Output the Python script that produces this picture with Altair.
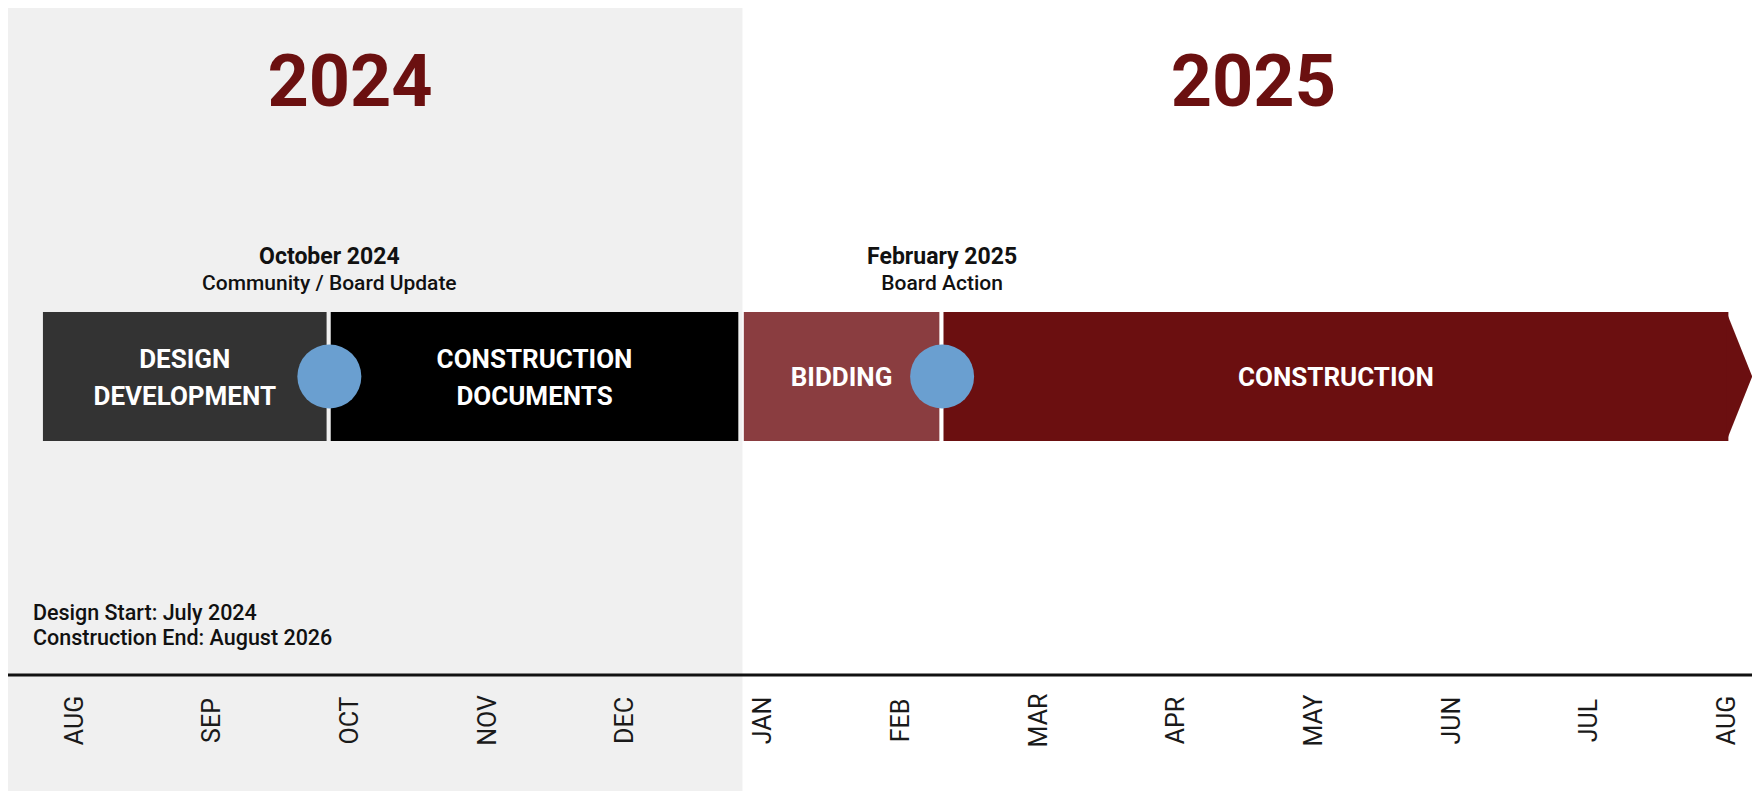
import altair as alt
import pandas as pd

# ---------------- data ----------------
months = ["AUG", "SEP", "OCT", "NOV", "DEC", "JAN", "FEB", "MAR", "APR", "MAY", "JUN", "JUL", "AUG"]
month_pos = list(range(13))          # month index, AUG 2024 = 0

years = ["2024", "2025"]
year_center = [2.0, 8.56]

shade_start = [-0.49]               # grey band behind 2024
shade_end = [4.85]

phases = ["DESIGN\nDEVELOPMENT", "CONSTRUCTION\nDOCUMENTS", "BIDDING", "CONSTRUCTION"]
phase_start = [-0.23, 1.86, 4.86, 6.31]
phase_end = [1.83, 4.82, 6.28, 12.01]
phase_colors = ["#333333", "#000000", "#8a3d40", "#6b0f10"]

milestone_pos = [1.85, 6.30]
milestone_title = ["October 2024", "February 2025"]
milestone_sub = ["Community / Board Update", "Board Action"]

notes = ["Design Start: July 2024", "Construction End: August 2026"]

# ---------------- tables ----------------
df_months = pd.DataFrame({"m": month_pos, "label": months})
df_years = pd.DataFrame({"m": year_center, "label": years})
df_shade = pd.DataFrame({"start": shade_start, "end": shade_end})
df_phase = pd.DataFrame({"phase": phases, "start": phase_start, "end": phase_end})
df_phase["mid"] = (df_phase["start"] + df_phase["end"]) / 2
df_phase["two"] = df_phase["phase"].str.contains("\n")
df_arrow = df_phase[df_phase["phase"] == "CONSTRUCTION"]
df_ms = pd.DataFrame({"m": milestone_pos, "title": milestone_title, "sub": milestone_sub})
df_notes = pd.DataFrame({"text": ["\n".join(notes)]})

W, H = 1744, 783
xs = alt.Scale(domain=[-0.4837, 12.1815], nice=False, zero=False)
FONT = "Roboto"

def X(f):
    return alt.X(f, type="quantitative", scale=xs, axis=None)

shade = alt.Chart(df_shade).mark_rect(color="#f0f0f0").encode(
    x=X("start"), x2="end", y=alt.value(0), y2=alt.value(H)
)

baseline = alt.Chart(df_shade).mark_rule(color="#111111", strokeWidth=3).encode(
    x=alt.value(0), x2=alt.value(W), y=alt.value(667)
)

bars = alt.Chart(df_phase).mark_rect().encode(
    x=X("start"), x2="end", y=alt.value(304), y2=alt.value(433),
    color=alt.Color("phase:N", scale=alt.Scale(domain=phases, range=phase_colors), legend=None),
)

arrow = alt.Chart(df_arrow).mark_point(
    shape="M-0.03,-1L0.37,0L-0.03,1Z", filled=True, size=16641, opacity=1,
    color="#6b0f10", strokeWidth=0,
).encode(x=X("end"), y=alt.value(368.5))

phase_text2 = alt.Chart(df_phase[df_phase["two"]]).mark_text(
    font=FONT, fontSize=26, fontWeight="bold", color="white",
    lineBreak="\n", lineHeight=37, align="center", baseline="middle",
).encode(x=X("mid"), y=alt.value(352), text="phase:N")

phase_text1 = alt.Chart(df_phase[~df_phase["two"]]).mark_text(
    font=FONT, fontSize=26, fontWeight="bold", color="white",
    align="center", baseline="middle",
).encode(x=X("mid"), y=alt.value(370), text="phase:N")

circles = alt.Chart(df_ms).mark_circle(size=4096, color="#6a9fd0", opacity=1).encode(
    x=X("m"), y=alt.value(368.5)
)

ms_title = alt.Chart(df_ms).mark_text(
    font=FONT, fontSize=23, fontWeight="bold", color="#111111",
    align="center", baseline="middle",
).encode(x=X("m"), y=alt.value(249), text="title:N")

ms_sub = alt.Chart(df_ms).mark_text(
    font=FONT, fontSize=21, fontWeight=500, color="#111111",
    align="center", baseline="middle",
).encode(x=X("m"), y=alt.value(276), text="sub:N")

year_text = alt.Chart(df_years).mark_text(
    font=FONT, fontSize=72, fontWeight="bold", color="#6b1010",
    align="center", baseline="middle",
).encode(x=X("m"), y=alt.value(76), text="label:N")

month_text = alt.Chart(df_months).mark_text(
    font=FONT, fontSize=25, fontWeight="normal", color="#1a1a1a",
    angle=270, align="center", baseline="middle",
).encode(x=X("m"), y=alt.value(712.5), text="label:N")

note_text = alt.Chart(df_notes).mark_text(
    font=FONT, fontSize=21.5, fontWeight=500, color="#111111",
    lineBreak="\n", lineHeight=25, align="left", baseline="middle",
).encode(x=alt.value(25), y=alt.value(606), text="text:N")

chart = alt.layer(
    shade, baseline, bars, arrow, phase_text2, phase_text1, circles, ms_title, ms_sub,
    year_text, month_text, note_text,
).properties(
    width=W, height=H, padding=0, autosize=alt.AutoSizeParams(type="none"),
    background="white",
).configure_view(stroke=None)

chart.save("out.html", embed_options={"renderer": "svg", "actions": False})
